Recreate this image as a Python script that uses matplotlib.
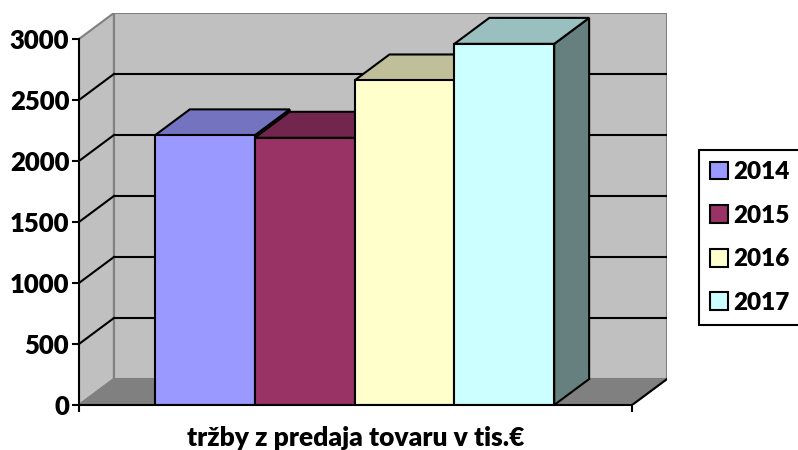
import matplotlib.pyplot as plt
from matplotlib.patches import Polygon, Patch

plt.rcParams['font.family'] = ['Lato', 'DejaVu Sans']
plt.rcParams['font.weight'] = 'bold'

# data
years = ['2014', '2015', '2016', '2017']
values = [2210, 2190, 2660, 2960]
front_col = ['#9999FF', '#993366', '#FFFFCC', '#CCFFFF']
top_col = ['#7373BF', '#73264D', '#BFBF99', '#99BFBF']
side_col = ['#7373BF', '#73264D', '#BFBF99', '#668080']
y_ticks = [0, 500, 1000, 1500, 2000, 2500, 3000]
xlabel = 'tržby z predaja tovaru v tis.€'

# 3d look: depth offset (x in bar widths, y in value units)
DX, DY = 0.35, 213
X0, X1 = -0.76, 4.78
YMAX = 3000

fig = plt.figure(figsize=(7.98, 4.5), dpi=100)
ax = fig.add_axes([79 / 798, 45 / 450, 588 / 798, 392 / 450])
ax.set_xlim(X0, X1 + DX)
ax.set_ylim(0, YMAX + DY)
ax.patch.set_visible(False)

wall = '#C0C0C0'
edge = '#808080'
# side wall
ax.add_patch(Polygon([(X0, 0), (X0, YMAX), (X0 + DX, YMAX + DY), (X0 + DX, DY)],
                     fc=wall, ec=edge, lw=1.5, zorder=1))
# back wall
ax.add_patch(Polygon([(X0 + DX, DY), (X0 + DX, YMAX + DY), (X1 + DX, YMAX + DY), (X1 + DX, DY)],
                     fc=wall, ec=edge, lw=1.5, zorder=1))
# floor
ax.add_patch(Polygon([(X0, 0), (X1, 0), (X1 + DX, DY), (X0 + DX, DY)],
                     fc='#808080', ec=edge, lw=1.5, zorder=1))
ax.plot([X1, X1 + DX], [0, DY], color='black', lw=1.5, zorder=2)

# gridlines
for v in y_ticks[1:-1]:
    ax.plot([X0 + DX, X1 + DX], [v + DY, v + DY], color='black', lw=1.5, zorder=2)
    ax.plot([X0, X0 + DX], [v, v + DY], color='black', lw=1.5, zorder=2)

# bars
for i, v in enumerate(values):
    z = 3 + i
    ax.add_patch(Polygon([(i + 1, 0), (i + 1 + DX, DY), (i + 1 + DX, v + DY), (i + 1, v)],
                         fc=side_col[i], ec='black', lw=1.5, zorder=z))
    ax.add_patch(Polygon([(i, v), (i + DX, v + DY), (i + 1 + DX, v + DY), (i + 1, v)],
                         fc=top_col[i], ec='black', lw=1.5, zorder=z))
    ax.add_patch(Polygon([(i, 0), (i, v), (i + 1, v), (i + 1, 0)],
                         fc=front_col[i], ec='black', lw=1.5, zorder=z))

# axes
for s in ['top', 'right']:
    ax.spines[s].set_visible(False)
ax.spines['left'].set_bounds(0, YMAX)
ax.spines['bottom'].set_bounds(X0, X1)
for s in ['left', 'bottom']:
    ax.spines[s].set_linewidth(1.5)
    ax.spines[s].set_zorder(10)
ax.set_yticks(y_ticks)
ax.set_yticklabels([str(t) for t in y_ticks], fontsize=18.5, fontweight='heavy')
ax.set_xticks([X0, X1])
ax.set_xticklabels(['', ''])
ax.tick_params(length=5, width=1.5, pad=2)

fig.text(356 / 798, 1 - 438 / 450, xlabel, ha='center', va='center',
         fontsize=19, fontweight='heavy')

handles = [Patch(fc=c, ec='black', lw=1.5) for c in front_col]
leg = fig.legend(handles, years, loc='upper left', bbox_to_anchor=(699 / 798, 1 - 150 / 450),
                 fancybox=False, edgecolor='black', framealpha=1,
                 prop={'size': 17.5, 'weight': 'heavy'},
                 handlelength=0.75, handleheight=0.75, handletextpad=0.2,
                 labelspacing=0.89, borderpad=0.45, borderaxespad=0)
leg.get_frame().set_linewidth(1.5)

fig.savefig('out.png', dpi=100)
